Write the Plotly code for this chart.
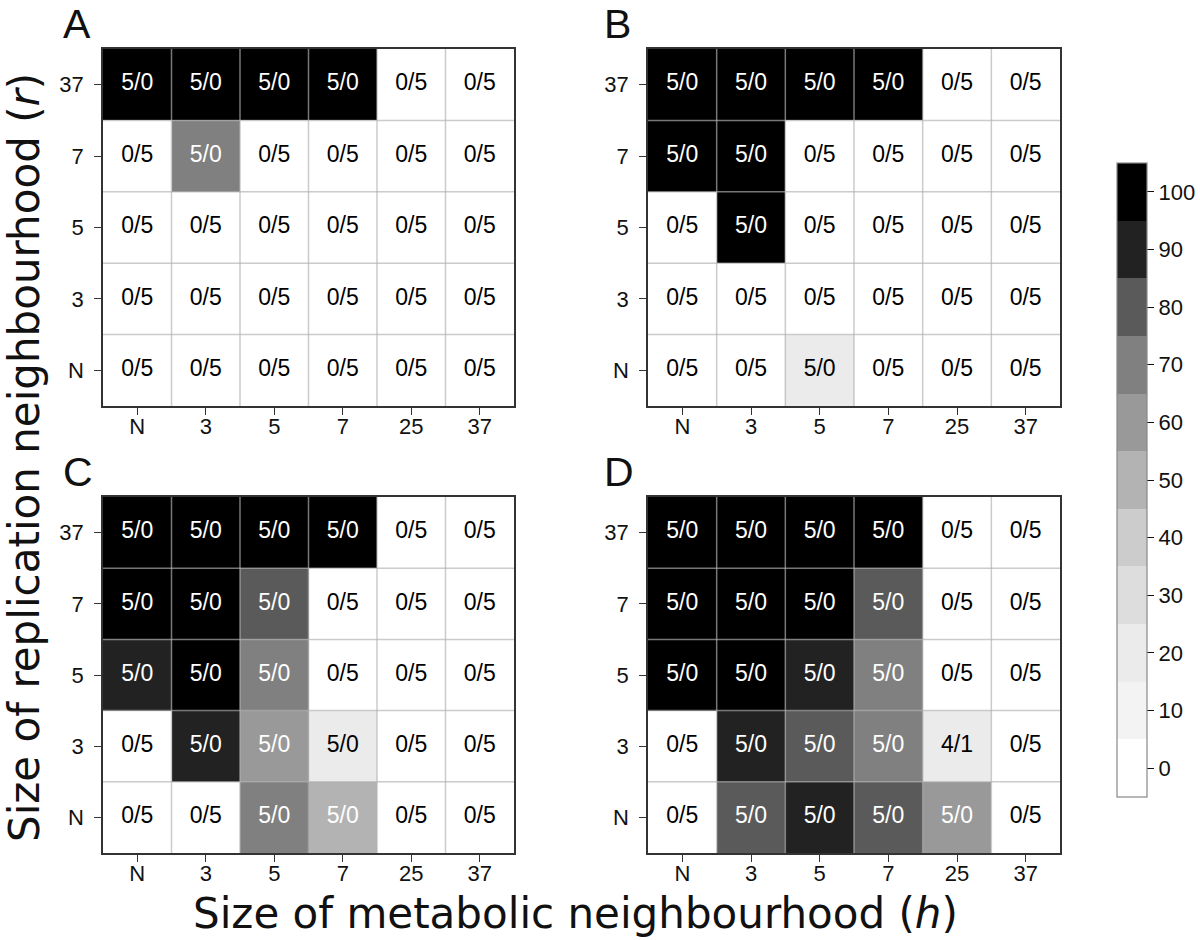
import plotly.graph_objects as go

h_labels = ["N", "3", "5", "7", "25", "37"]
r_labels = ["N", "3", "5", "7", "37"]  # bottom to top

# percentage values, rows bottom (N) to top (37)
vals_A = [[0, 0, 0, 0, 0, 0],
          [0, 0, 0, 0, 0, 0],
          [0, 0, 0, 0, 0, 0],
          [0, 70, 0, 0, 0, 0],
          [100, 100, 100, 100, 0, 0]]
vals_B = [[0, 0, 20, 0, 0, 0],
          [0, 0, 0, 0, 0, 0],
          [0, 100, 0, 0, 0, 0],
          [100, 100, 0, 0, 0, 0],
          [100, 100, 100, 100, 0, 0]]
vals_C = [[0, 0, 70, 50, 0, 0],
          [0, 90, 60, 20, 0, 0],
          [90, 100, 70, 0, 0, 0],
          [100, 100, 80, 0, 0, 0],
          [100, 100, 100, 100, 0, 0]]
vals_D = [[0, 80, 90, 80, 60, 0],
          [0, 90, 80, 70, 20, 0],
          [100, 100, 90, 70, 0, 0],
          [100, 100, 100, 80, 0, 0],
          [100, 100, 100, 100, 0, 0]]

# number of runs (out of 5) per cell
runs_A = [[0, 0, 0, 0, 0, 0],
          [0, 0, 0, 0, 0, 0],
          [0, 0, 0, 0, 0, 0],
          [0, 5, 0, 0, 0, 0],
          [5, 5, 5, 5, 0, 0]]
runs_B = [[0, 0, 5, 0, 0, 0],
          [0, 0, 0, 0, 0, 0],
          [0, 5, 0, 0, 0, 0],
          [5, 5, 0, 0, 0, 0],
          [5, 5, 5, 5, 0, 0]]
runs_C = [[0, 0, 5, 5, 0, 0],
          [0, 5, 5, 5, 0, 0],
          [5, 5, 5, 0, 0, 0],
          [5, 5, 5, 0, 0, 0],
          [5, 5, 5, 5, 0, 0]]
runs_D = [[0, 5, 5, 5, 5, 0],
          [0, 5, 5, 5, 4, 0],
          [5, 5, 5, 5, 0, 0],
          [5, 5, 5, 5, 0, 0],
          [5, 5, 5, 5, 0, 0]]
total_runs = 5

panel_names = ["A", "B", "C", "D"]
panel_vals = [vals_A, vals_B, vals_C, vals_D]
panel_runs = [runs_A, runs_B, runs_C, runs_D]

cb_ticks = [0, 10, 20, 30, 40, 50, 60, 70, 80, 90, 100]
bin_colors = ["#ffffff", "#f3f3f3", "#ebebeb", "#dddddd", "#cccccc", "#b3b3b3",
              "#999999", "#808080", "#5a5a5a", "#222222", "#000000"]

zmin, zmax = -5, 105
colorscale = []
for i, c in enumerate(bin_colors):
    lo = (cb_ticks[i] - 5 - zmin) / (zmax - zmin)
    hi = (cb_ticks[i] + 5 - zmin) / (zmax - zmin)
    colorscale.append([lo, c])
    colorscale.append([hi, c])

W, H = 1200, 940
# pixel boxes of panels (left, right, top, bottom)
boxes = [(103, 514, 49, 406), (648, 1060, 49, 406),
         (103, 514, 497, 853), (648, 1060, 497, 853)]
letter_x = [62, 603, 62, 603]

fig = go.Figure()
font_tick = dict(family="Liberation Sans, Arial, sans-serif", size=22, color="#111")
xs = list(range(len(h_labels)))
ys = list(range(len(r_labels)))

for k, name in enumerate(panel_names):
    sfx = "" if k == 0 else str(k + 1)
    xa, ya = "x" + sfx, "y" + sfx
    vals = panel_vals[k]
    runs = panel_runs[k]
    fig.add_trace(go.Heatmap(
        z=vals, x=xs, y=ys, xaxis=xa, yaxis=ya,
        zmin=zmin, zmax=zmax, colorscale=colorscale,
        showscale=(k == 0), hoverinfo="skip",
        colorbar=dict(
            x=1117 / W, xanchor="left", y=1 - 480 / H, yanchor="middle",
            thickness=30, thicknessmode="pixels", len=634, lenmode="pixels",
            xpad=0, ypad=0, outlinecolor="#888", outlinewidth=1.2,
            tickvals=cb_ticks, ticks="outside", ticklen=7, tickcolor="#111",
            tickfont=font_tick,
        ),
    ))
    # cell labels
    for colr in ["white", "black"]:
        tx, ty, tt = [], [], []
        for j in ys:
            for i in xs:
                white = vals[j][i] >= 50
                if (colr == "white") == white:
                    tx.append(i)
                    ty.append(j)
                    tt.append(f"{runs[j][i]}/{total_runs - runs[j][i]}")
        fig.add_trace(go.Scatter(
            x=tx, y=ty, text=tt, mode="text", xaxis=xa, yaxis=ya,
            textfont=dict(family="Liberation Sans, Arial, sans-serif", size=23, color=colr),
            hoverinfo="skip", showlegend=False,
        ))
    # grid lines between cells
    for i in xs[:-1]:
        fig.add_shape(type="line", xref=xa, yref=ya, x0=i + 0.5, x1=i + 0.5,
                      y0=-0.5, y1=len(r_labels) - 0.5, layer="above",
                      line=dict(color="rgba(178,178,178,0.67)", width=1.5))
    for j in ys[:-1]:
        fig.add_shape(type="line", xref=xa, yref=ya, y0=j + 0.5, y1=j + 0.5,
                      x0=-0.5, x1=len(h_labels) - 0.5, layer="above",
                      line=dict(color="rgba(178,178,178,0.67)", width=1.5))
    l, r, t, b = boxes[k]
    axis_common = dict(showline=True, mirror=True, linecolor="#333", linewidth=1.5,
                       ticks="outside", ticklen=7, tickcolor="#333", tickwidth=1.2,
                       showgrid=False, zeroline=False, tickfont=font_tick,
                       fixedrange=True)
    fig.layout["xaxis" + sfx] = dict(domain=[l / W, r / W], anchor=ya,
                                     range=[-0.5, len(h_labels) - 0.5],
                                     tickvals=xs, ticktext=h_labels,
                                     ticklabelstandoff=-7, **axis_common)
    fig.layout["yaxis" + sfx] = dict(domain=[1 - b / H, 1 - t / H], anchor=xa,
                                     range=[-0.5, len(r_labels) - 0.5],
                                     tickvals=ys, ticktext=r_labels,
                                     ticklabelstandoff=6, **axis_common)
    # panel letter
    fig.add_annotation(text=name, xref="paper", yref="paper",
                       x=letter_x[k] / W, y=1 - (t - 49) / H, xanchor="left", yanchor="top",
                       showarrow=False, borderpad=0,
                       font=dict(family="Liberation Sans, Arial, sans-serif", size=41, color="#111"))

title_font = dict(family="DejaVu Sans, sans-serif", size=42, color="#111")
fig.add_annotation(text="Size of metabolic neighbourhood (<i>h</i>)", xref="paper", yref="paper",
                   x=575 / W, y=1 - 913 / H, xanchor="center", yanchor="middle",
                   showarrow=False, font=title_font)
fig.add_annotation(text="Size of replication neighbourhood (<i>r</i>)", xref="paper", yref="paper",
                   x=24 / W, y=1 - 458 / H, xanchor="center", yanchor="middle",
                   textangle=-90, showarrow=False, font=title_font)

fig.update_layout(width=W, height=H, margin=dict(l=0, r=0, t=0, b=0),
                  paper_bgcolor="white", plot_bgcolor="white", showlegend=False)

fig.write_html("out.html", config={"displayModeBar": False},
               post_script="document.body.style.margin='0';document.body.style.overflow='hidden';")
